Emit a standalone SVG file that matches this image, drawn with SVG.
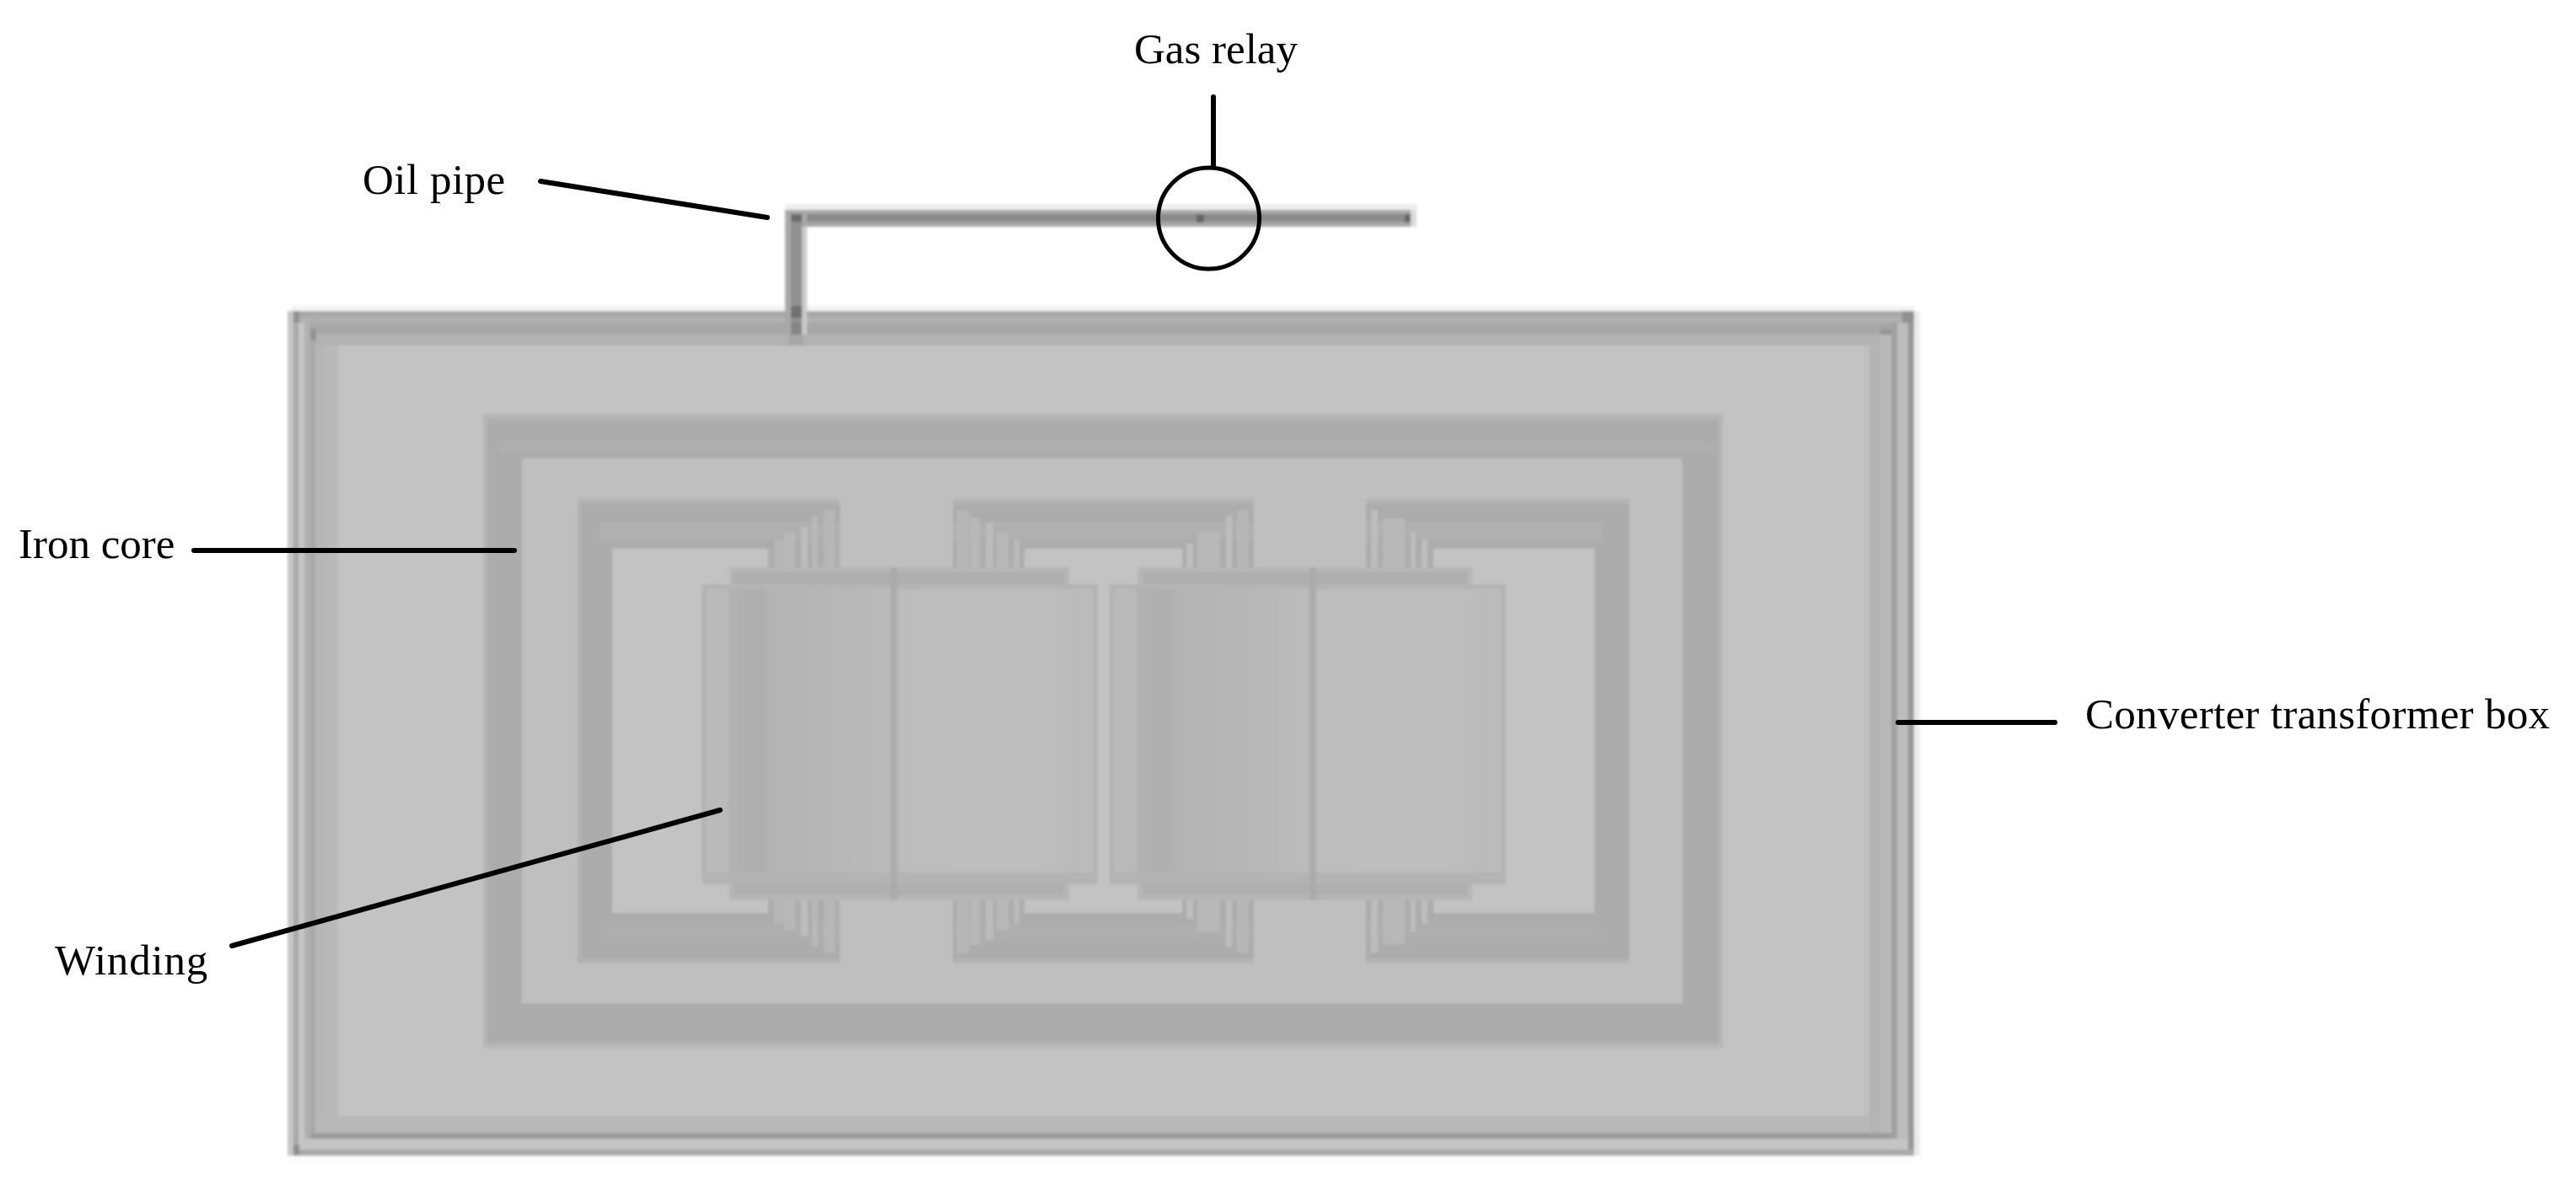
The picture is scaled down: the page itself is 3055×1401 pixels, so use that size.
<svg xmlns="http://www.w3.org/2000/svg" width="3055" height="1401" viewBox="0 0 3055 1401">
<style>
text{font-family:"Liberation Serif","Times New Roman",serif;font-size:51px;fill:#000}
.lead{stroke:#000;stroke-width:6;fill:none;stroke-linecap:round}
</style>
<defs>
<filter id="soft" x="-2%" y="-2%" width="104%" height="104%"><feGaussianBlur stdDeviation="1.6"/></filter>
<linearGradient id="wind" x1="0" x2="1" y1="0" y2="0">
<stop offset="0" stop-color="#bababa"/><stop offset=".055" stop-color="#b9b9b9"/>
<stop offset=".06" stop-color="#b1b1b1"/><stop offset=".14" stop-color="#aeaeae"/>
<stop offset=".17" stop-color="#b3b3b3"/><stop offset=".33" stop-color="#b7b7b7"/>
<stop offset=".46" stop-color="#bababa"/><stop offset=".5" stop-color="#bcbcbc"/>
<stop offset=".7" stop-color="#bebebe"/><stop offset=".92" stop-color="#bdbdbd"/>
<stop offset=".94" stop-color="#bababa"/><stop offset="1" stop-color="#bcbcbc"/>
</linearGradient>
<g id="legA" fill="#b8b8b8">
<rect x="918" y="640" width="12" height="40" fill="#b6b6b6"/><rect x="930" y="632" width="13" height="48" fill="#b8b8b8"/><rect x="950" y="625" width="8" height="55" fill="#bdbdbd"/><rect x="963" y="612" width="7" height="68" fill="#b8b8b8"/><rect x="977" y="605" width="13" height="75" fill="#b7b7b7"/>
</g>
<g id="legB" fill="#b8b8b8">
<rect x="1135" y="605" width="14" height="75" fill="#b7b7b7"/><rect x="1151" y="614" width="11" height="66"/><rect x="1169" y="620" width="9" height="60" fill="#bbbbbb"/><rect x="1182" y="632" width="14" height="48"/><rect x="1202" y="640" width="7" height="40" fill="#bababa"/>
</g>
<g id="legC" fill="#b8b8b8">
<rect x="1407" y="645" width="8" height="35" fill="#bdbdbd"/><rect x="1420" y="630" width="27" height="50"/><rect x="1454" y="612" width="7" height="68" fill="#bebebe"/><rect x="1467" y="605" width="14" height="75" fill="#b7b7b7"/>
</g>
<g id="legD" fill="#b8b8b8">
<rect x="1626" y="605" width="8" height="75" fill="#bdbdbd"/><rect x="1640" y="615" width="26" height="65"/><rect x="1673" y="630" width="6" height="50" fill="#bdbdbd"/><rect x="1686" y="640" width="7" height="40" fill="#bebebe"/>
</g>
</defs>

<g id="picture" filter="url(#soft)">
<g id="transformer-box">
<rect x="345" y="363" width="1925" height="6" fill="#f3f3f3"/>
<rect x="341" y="1371" width="1929" height="8" fill="#fbfbfb"/>
<rect x="2270" y="369" width="7" height="1002" fill="#ececec"/>
<rect x="341" y="369" width="1929" height="1002" fill="#c3c3c3"/>
<rect x="341" y="369" width="7" height="1002" fill="#c6c6c6"/>
<rect x="348" y="369" width="6" height="1002" fill="#a8a8a8"/>
<rect x="354" y="369" width="7" height="1002" fill="#c6c6c6"/>
<rect x="361" y="369" width="7" height="1002" fill="#b0b0b0"/>
<rect x="368" y="369" width="6" height="1002" fill="#a9a9a9"/>
<rect x="374" y="369" width="14" height="1002" fill="#b6b6b6"/>
<rect x="388" y="369" width="13" height="1002" fill="#b9b9b9"/>
<rect x="2263" y="369" width="7" height="1002" fill="#989898"/>
<rect x="2250" y="369" width="13" height="1002" fill="#bcbcbc"/>
<rect x="2243" y="369" width="7" height="1002" fill="#a0a0a0"/>
<rect x="2230" y="369" width="13" height="1002" fill="#b8b8b8"/>
<rect x="2217" y="369" width="13" height="1002" fill="#b4b4b4"/>
<rect x="2210" y="369" width="7" height="1002" fill="#bfbfbf"/>
<rect x="348" y="369" width="1922" height="7" fill="#a8a8a8"/>
<rect x="354" y="376" width="1909" height="7" fill="#b0b0b0"/>
<rect x="368" y="383" width="1875" height="14" fill="#a7a7a7"/>
<rect x="374" y="397" width="1843" height="13" fill="#b2b2b2"/>
<rect x="348" y="1364" width="1922" height="7" fill="#a8a8a8"/>
<rect x="354" y="1351" width="1909" height="13" fill="#c4c4c4"/>
<rect x="368" y="1344" width="1875" height="7" fill="#9d9d9d"/>
<rect x="374" y="1324" width="1843" height="20" fill="#b8b8b8"/>
<rect x="348" y="369" width="7" height="14" fill="#929292"/>
<rect x="368" y="390" width="7" height="14" fill="#939393"/>
<rect x="348" y="1358" width="7" height="13" fill="#8e8e8e"/>
<rect x="2256" y="369" width="14" height="14" fill="#909090"/>
<rect x="2230" y="390" width="13" height="7" fill="#979797"/>
</g>

<g id="iron-core">
<rect x="573" y="491" width="1470" height="752" fill="#b6b6b6"/>
<rect x="578" y="497" width="1460" height="740" fill="#acacac"/>
<rect x="590" y="525" width="1440" height="12" fill="#afafaf"/>
<rect x="619" y="544" width="1376" height="646" fill="#bfbfbf"/>
</g>

<g id="core-left">
<path d="M685 592H996V1143H685Z" fill="#b2b2b2"/>
<path d="M690 598H996V1137H690Z" fill="#acacac"/>
<rect x="712" y="620" width="284" height="20" fill="#b0b0b0"/>
<rect x="712" y="1095" width="284" height="20" fill="#aeaeae"/>
<rect x="726" y="651" width="185" height="432" fill="#c3c3c3"/>
<use href="#legA"/><use href="#legA" transform="matrix(1 0 0 -1 0 1735)"/>
</g>
<g id="core-middle">
<path d="M1130 592H1487V1143H1130Z" fill="#b2b2b2"/>
<path d="M1130 598H1487V1137H1130Z" fill="#acacac"/>
<rect x="1130" y="620" width="357" height="20" fill="#b0b0b0"/>
<rect x="1130" y="1095" width="357" height="20" fill="#aeaeae"/>
<rect x="1215" y="651" width="187" height="432" fill="#c3c3c3"/>
<use href="#legB"/><use href="#legB" transform="matrix(1 0 0 -1 0 1735)"/>
<use href="#legC"/><use href="#legC" transform="matrix(1 0 0 -1 0 1735)"/>
</g>
<g id="core-right">
<path d="M1620 592H1932V1143H1620Z" fill="#b2b2b2"/>
<path d="M1620 598H1932V1137H1620Z" fill="#acacac"/>
<rect x="1620" y="620" width="280" height="20" fill="#b0b0b0"/>
<rect x="1620" y="1095" width="280" height="20" fill="#aeaeae"/>
<rect x="1700" y="651" width="191" height="432" fill="#c3c3c3"/>
<use href="#legD"/><use href="#legD" transform="matrix(1 0 0 -1 0 1735)"/>
</g>

<g id="winding-left">
<rect x="865" y="673" width="403" height="395" fill="#b6b6b6"/>
<rect x="871" y="679" width="391" height="383" fill="#afafaf"/>
<rect x="832" y="693" width="470" height="356" fill="#b4b4b4"/>
<rect x="838" y="699" width="458" height="344" fill="url(#wind)"/>
<rect x="838" y="1035" width="458" height="14" fill="#b3b3b3"/>
<rect x="1056" y="673" width="8" height="395" fill="#ababab"/>
</g>
<g id="winding-right">
<rect x="1349" y="673" width="397" height="395" fill="#b6b6b6"/>
<rect x="1355" y="679" width="385" height="383" fill="#afafaf"/>
<rect x="1316" y="693" width="470" height="356" fill="#b4b4b4"/>
<rect x="1322" y="699" width="458" height="344" fill="url(#wind)"/>
<rect x="1322" y="1035" width="458" height="14" fill="#b3b3b3"/>
<rect x="1553" y="673" width="8" height="395" fill="#ababab"/>
</g>

<g id="oil-pipe">
<rect x="931" y="242" width="749" height="7" fill="#eeeeee"/>
<rect x="931" y="249" width="749" height="20" fill="#a8a8a8"/>
<rect x="938" y="254" width="735" height="9" fill="#8a8a8a"/>
<rect x="1673" y="249" width="7" height="20" fill="#dddddd"/>
<rect x="931" y="249" width="26" height="148" fill="#a8a8a8"/>
<rect x="951" y="269" width="6" height="128" fill="#cbcbcb"/>
<rect x="938" y="254" width="13" height="143" fill="#919191"/>
<rect x="938" y="254" width="13" height="9" fill="#696969"/>
<rect x="938" y="363" width="13" height="14" fill="#6f6f6f"/>
<rect x="938" y="383" width="13" height="14" fill="#858585"/>
<rect x="935" y="397" width="18" height="13" fill="#a8a8a8"/>
<rect x="1419" y="254" width="9" height="10" fill="#666666"/>
<rect x="1666" y="254" width="7" height="10" fill="#666666"/>
</g>
</g>

<g id="gas-relay"><circle cx="1433.5" cy="259" r="60" fill="none" stroke="#000" stroke-width="5"/></g>

<g id="connectors">
<line class="lead" x1="1439" y1="115" x2="1439" y2="197"/>
<line class="lead" x1="641" y1="215" x2="910" y2="258"/>
<line class="lead" x1="230" y1="653" x2="610" y2="653"/>
<line class="lead" x1="275" y1="1122" x2="854" y2="961"/>
<line class="lead" x1="2251" y1="857" x2="2437" y2="857"/>
</g>

<g id="labels">
<text x="1345" y="75">Gas relay</text>
<text x="430" y="230" letter-spacing=".5">Oil pipe</text>
<text x="22" y="662">Iron core</text>
<text x="65" y="1156" letter-spacing=".8">Winding</text>
<text x="2473" y="864" letter-spacing=".3">Converter transformer box</text>
</g>
</svg>
